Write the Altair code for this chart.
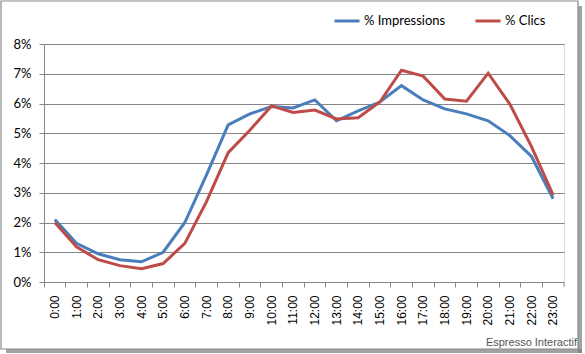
import altair as alt
import pandas as pd

hours = [f"{h}:00" for h in range(24)]
impressions = [2.1, 1.3, 0.95, 0.75, 0.68, 1.0, 2.0, 3.6, 5.28, 5.65, 5.9, 5.85,
               6.12, 5.42, 5.75, 6.05, 6.6, 6.12, 5.82, 5.65, 5.42, 4.92, 4.22, 2.8]
clics = [2.0, 1.18, 0.75, 0.55, 0.45, 0.62, 1.3, 2.7, 4.35, 5.1, 5.92, 5.7,
         5.78, 5.48, 5.52, 6.05, 7.12, 6.92, 6.15, 6.08, 7.02, 5.98, 4.55, 2.92]
series_names = ["% Impressions", "% Clics"]
series_colors = ["#4A7EBB", "#BE4B48"]
credit = "Espresso Interactif"

rows = []
for h, a, b in zip(hours, impressions, clics):
    rows.append({"heure": h, "serie": series_names[0], "valeur": a / 100})
    rows.append({"heure": h, "serie": series_names[1], "valeur": b / 100})
df = pd.DataFrame(rows)

W, H = 520, 238
one = pd.DataFrame({"k": [0]})

shadow_r = alt.Chart(one).mark_rect(fill="#7a7a7a", opacity=0.7).encode(
    x=alt.value(534), x2=alt.value(538), y=alt.value(-38), y2=alt.value(309)
)
shadow_b = alt.Chart(one).mark_rect(fill="#7a7a7a", opacity=0.7).encode(
    x=alt.value(-38), x2=alt.value(538), y=alt.value(305), y2=alt.value(309)
)
frame = alt.Chart(one).mark_rect(fill=None, stroke="#8a8a8a", strokeWidth=1.2).encode(
    x=alt.value(-43), x2=alt.value(534), y=alt.value(-43), y2=alt.value(305)
)
last_tick = alt.Chart(one).mark_rule(color="#868686").encode(
    x=alt.value(W), y=alt.value(H), y2=alt.value(H + 5)
)

lines = alt.Chart(df).mark_line(strokeWidth=3).encode(
    x=alt.X("heure:N", sort=hours, title=None,
            scale=alt.Scale(type="band", paddingInner=0, paddingOuter=0),
            axis=alt.Axis(bandPosition=0, labelAngle=270, labelAlign="right",
                          labelBaseline="middle",
                          labelPadding=8, tickSize=5, tickColor="#868686",
                          domainColor="#868686", labelFont="Liberation Sans",
                          labelFontSize=12, labelColor="#000000", grid=False)),
    y=alt.Y("valeur:Q", title=None,
            scale=alt.Scale(domain=[0, 0.08], nice=False),
            axis=alt.Axis(format=".0%", values=[0, 0.01, 0.02, 0.03, 0.04, 0.05, 0.06, 0.07, 0.08],
                          tickSize=5, tickColor="#868686", domainColor="#868686",
                          gridColor="#868686", gridWidth=1, labelPadding=8,
                          labelFont="Lato", labelFontSize=13, labelColor="#000000")),
    color=alt.Color("serie:N", sort=series_names,
                    scale=alt.Scale(domain=series_names, range=series_colors),
                    legend=alt.Legend(orient="none", legendX=289, legendY=-37,
                                      direction="horizontal", title=None,
                                      symbolType="stroke", symbolSize=625,
                                      symbolStrokeWidth=3, labelFont="Lato",
                                      labelFontSize=13, labelColor="#000000",
                                      labelOffset=3, columnPadding=23)),
)

credit_text = alt.Chart(one).mark_text(
    text=credit, align="right", baseline="alphabetic", font="Liberation Sans",
    fontSize=11, color="#555555"
).encode(x=alt.value(533), y=alt.value(302))

chart = alt.layer(shadow_r, shadow_b, frame, last_tick, lines, credit_text).properties(
    width=W, height=H,
    autosize=alt.AutoSizeParams(type="none"),
    padding={"left": 44, "top": 44, "right": 21, "bottom": 72},
).configure_view(stroke=None).configure(background="white")

chart.save("out.html", embed_options={"renderer": "svg", "actions": False})
